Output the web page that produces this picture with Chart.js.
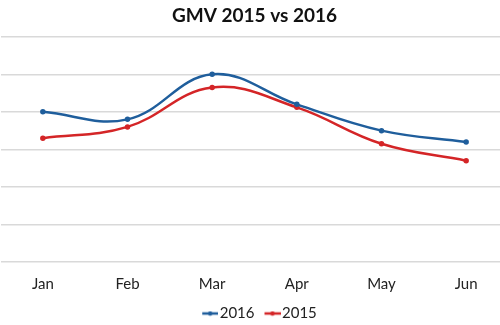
<!DOCTYPE html>
<html>
<head>
<meta charset="utf-8">
<script src="https://cdn.jsdelivr.net/npm/chart.js@4"></script>
<style>
  html, body { margin: 0; padding: 0; background: #fff; overflow: hidden; }
  #gmvChart { display: block; margin-left: -6px; }
</style>
</head>
<body>
<canvas id="gmvChart" width="521" height="325"></canvas>
<script>
const months = ['Jan', 'Feb', 'Mar', 'Apr', 'May', 'Jun']
const gmv2016 = [4.0, 3.8, 5.0, 4.2, 3.5, 3.2]
const gmv2015 = [3.3, 3.6, 4.65, 4.12, 3.15, 2.7]
const yTicks = [0, 1, 2, 3, 4, 5, 6]

const blue = '#1f5e9c'
const red = '#d42527'

// legend marker: short line with a dot, drawn off-centre so it sits close to the text
function legendMarker(color) {
  const c = document.createElement('canvas')
  c.width = 32
  c.height = 6
  const g = c.getContext('2d')
  g.strokeStyle = color
  g.lineWidth = 2.5
  g.beginPath()
  g.moveTo(16, 3)
  g.lineTo(32, 3)
  g.stroke()
  g.fillStyle = color
  g.beginPath()
  g.arc(24, 3, 2.2, 0, Math.PI * 2)
  g.fill()
  return c
}

const ctx = document.getElementById('gmvChart').getContext('2d')

new Chart(ctx, {
  type: 'line',
  data: {
    labels: months,
    datasets: [
      {
        label: '2016',
        data: gmv2016,
        borderColor: blue,
        backgroundColor: blue,
        borderWidth: 2.5,
        pointRadius: 1.5,
        tension: 0.4,
      },
      {
        label: '2015',
        data: gmv2015,
        borderColor: red,
        backgroundColor: red,
        borderWidth: 2.5,
        pointRadius: 1.5,
        tension: 0.4,
      },
    ],
  },
  options: {
    responsive: false,
    animation: false,
    layout: {
      padding: { left: 0, right: 0, top: 0, bottom: -6 },
    },
    plugins: {
      title: {
        display: true,
        text: 'GMV 2015 vs 2016',
        color: '#111',
        font: { family: 'Lato', size: 19, weight: 'bold' },
        padding: { top: 4, bottom: 10 },
      },
      legend: {
        position: 'bottom',
        labels: {
          color: '#222',
          font: { family: 'Lato', size: 15 },
          usePointStyle: true,
          pointStyleWidth: 20,
          padding: 0,
          generateLabels: (chart) =>
            chart.data.datasets.map((ds, i) => ({
              text: ds.label,
              fontColor: '#222',
              pointStyle: legendMarker(ds.borderColor),
              datasetIndex: i,
              hidden: false,
              lineWidth: 0,
            })),
        },
      },
      tooltip: { enabled: false },
    },
    scales: {
      x: {
        offset: true,
        grid: { display: false, drawTicks: false },
        border: { display: false },
        ticks: {
          color: '#222',
          font: { family: 'Lato', size: 15 },
          padding: 13,
        },
      },
      y: {
        min: 0,
        max: 6,
        afterBuildTicks: (axis) => {
          axis.ticks = yTicks.map((v) => ({ value: v }))
        },
        afterFit: (axis) => {
          axis.width = 0
        },
        grid: { color: '#d9d9d9', lineWidth: 1.5, drawTicks: false },
        border: { display: false },
        ticks: { display: false },
      },
    },
  },
})
</script>
</body>
</html>
